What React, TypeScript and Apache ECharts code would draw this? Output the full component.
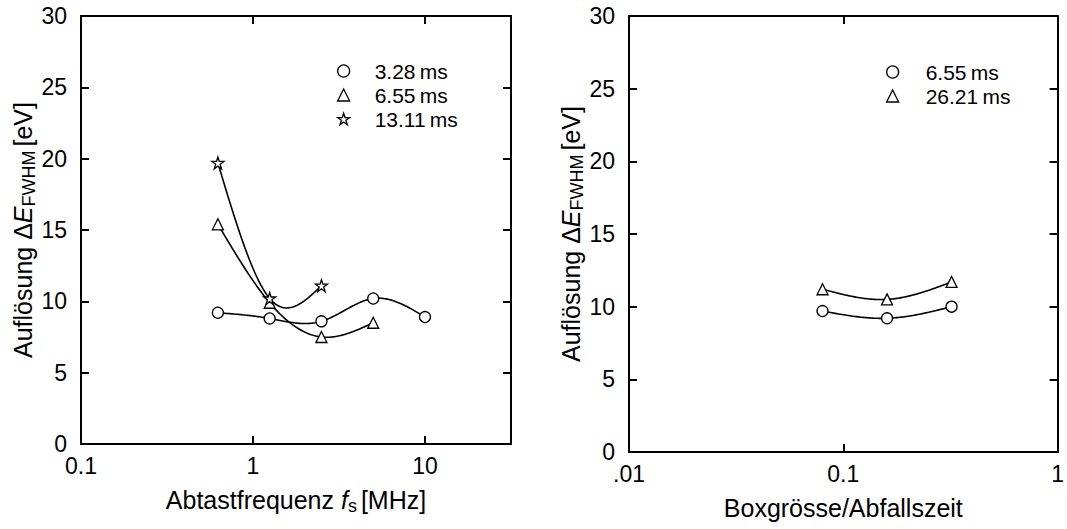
import React, { useEffect, useRef } from "react";
import * as echarts from "echarts";

// Left panel: resolution vs. sampling frequency
const fsMHz_328 = [0.625, 1.25, 2.5, 5, 10];
const res_328 = [9.2, 8.8, 8.6, 10.2, 8.9];
const fsMHz_655 = [0.625, 1.25, 2.5, 5];
const res_655 = [15.4, 9.9, 7.5, 8.5];
const fsMHz_1311 = [0.625, 1.25, 2.5];
const res_1311 = [19.7, 10.2, 11.1];
const leftNames = ["3.28\u2009ms", "6.55\u2009ms", "13.11\u2009ms"];

// Right panel: resolution vs. box size / decay time
const box_655 = [0.08, 0.16, 0.32];
const resBox_655 = [9.7, 9.2, 10.0];
const box_2621 = [0.08, 0.16, 0.32];
const resBox_2621 = [11.2, 10.5, 11.7];
const rightNames = ["6.55\u2009ms\u200a", "26.21\u2009ms"];

const leftXTicks: Record<string, string> = { "0.1": "0.1", "1": "1", "10": "10" };
const rightXTicks: Record<string, string> = { "0.01": ".01", "0.1": "0.1", "1": "1" };

const STAR = "path://M50,2 L61,37 L98,37 L68,59 L79,95 L50,73 L21,95 L32,59 L2,37 L39,37 Z";
const FONT = "'Liberation Sans', Arial, Helvetica, sans-serif";
const FS = 23;
const LFS = 21;
const NFS = 25;

function zip(xs: number[], ys: number[]) {
  return xs.map((x, i) => [x, ys[i]]);
}

function fmtTick(map: Record<string, string>) {
  return (v: number) => {
    const k = String(parseFloat(v.toPrecision(6)));
    return map[k] ?? "";
  };
}

// natural cubic spline through pixel points (x increasing), sampled densely for drawing
function splinePoints(p: number[][]): number[][] {
  const n = p.length;
  if (n < 3) return p;
  const h: number[] = [];
  for (let i = 0; i < n - 1; i++) h.push(p[i + 1][0] - p[i][0]);
  const a: number[] = new Array(n).fill(0);
  const b: number[] = new Array(n).fill(1);
  const c: number[] = new Array(n).fill(0);
  const d: number[] = new Array(n).fill(0);
  for (let i = 1; i < n - 1; i++) {
    a[i] = h[i - 1] / 6;
    b[i] = (h[i - 1] + h[i]) / 3;
    c[i] = h[i] / 6;
    d[i] = (p[i + 1][1] - p[i][1]) / h[i] - (p[i][1] - p[i - 1][1]) / h[i - 1];
  }
  const cp = c.slice();
  const dp = d.slice();
  for (let i = 1; i < n; i++) {
    const m = a[i] / b[i - 1];
    b[i] = b[i] - m * cp[i - 1];
    dp[i] = dp[i] - m * dp[i - 1];
  }
  const M: number[] = new Array(n).fill(0);
  M[n - 1] = dp[n - 1] / b[n - 1];
  for (let i = n - 2; i >= 0; i--) M[i] = (dp[i] - cp[i] * M[i + 1]) / b[i];
  M[0] = 0;
  M[n - 1] = 0;
  const out: number[][] = [];
  const steps = 40;
  for (let i = 0; i < n - 1; i++) {
    const hi = h[i];
    for (let s = 0; s <= steps; s++) {
      if (i > 0 && s === 0) continue;
      const t = s / steps;
      const x = p[i][0] + t * hi;
      const A = 1 - t;
      const B = t;
      const y =
        A * p[i][1] +
        B * p[i + 1][1] +
        ((A * A * A - A) * M[i] + (B * B * B - B) * M[i + 1]) * (hi * hi) / 6;
      out.push([x, y]);
    }
  }
  return out;
}

const richName = {
  a: { fontFamily: FONT, fontSize: NFS, color: "#000", lineHeight: 30, verticalAlign: "middle" },
  i: { fontFamily: FONT, fontSize: NFS, color: "#000", fontStyle: "italic", lineHeight: 30, verticalAlign: "middle" },
  sub: { fontFamily: FONT, fontSize: 18, color: "#000", lineHeight: 30, verticalAlign: "bottom", padding: [0, 4, 0, 0] },
};

export default function App() {
  const ref = useRef<HTMLDivElement>(null);
  useEffect(() => {
    if (!ref.current) return;
    const chart = echarts.init(ref.current, null, { renderer: "svg" });
    const axisLine = { show: true, onZero: false, lineStyle: { color: "#000", width: 2 } };
    const tick = { show: true, inside: true, length: 8, lineStyle: { color: "#000", width: 2 } };
    const label = { color: "#000", fontFamily: FONT, fontSize: FS };
    const sym = { color: "#fff", borderColor: "#000", borderWidth: 1.3 };

    const mkX = (grid: number, pos: "bottom" | "top", min: number, max: number, map: Record<string, string>, name?: string) => ({
      type: "log",
      logBase: 10,
      gridIndex: grid,
      position: pos,
      min,
      max,
      axisLine,
      axisTick: tick,
      splitLine: { show: false },
      minorTick: { show: false },
      axisLabel: pos === "bottom" ? { ...label, margin: 10, formatter: fmtTick(map), showMaxLabel: true } : { show: false },
      name: name ?? "",
      nameLocation: "middle",
      nameGap: 41,
      nameTextStyle: { rich: richName },
    });
    const mkY = (grid: number, pos: "left" | "right", name?: string) => ({
      type: "value",
      gridIndex: grid,
      position: pos,
      min: 0,
      max: 30,
      interval: 5,
      axisLine,
      axisTick: tick,
      splitLine: { show: false },
      axisLabel: pos === "left" ? { ...label, margin: 14 } : { show: false },
      name: name ?? "",
      nameLocation: "middle",
      nameRotate: 90,
      nameGap: 40,
      nameTextStyle: { rich: richName },
    });

    const yName = "{a|Auflösung Δ}{i|E}{sub|FWHM}{a|[eV]}";

    const curve = (xIdx: number, yIdx: number, xs: number[], ys: number[]) => ({
      type: "custom",
      name: "curve",
      coordinateSystem: "cartesian2d",
      xAxisIndex: xIdx,
      yAxisIndex: yIdx,
      data: zip(xs, ys),
      z: 1,
      silent: true,
      renderItem: (params: any, api: any) => {
        if (params.dataIndex !== 0) return null;
        const pts = xs.map((x, i) => api.coord([x, ys[i]]));
        return {
          type: "polyline",
          shape: { points: splinePoints(pts) },
          style: { stroke: "#000", lineWidth: 1.6, fill: null },
        };
      },
    });

    const marks = (name: string, xIdx: number, yIdx: number, xs: number[], ys: number[], symbol: string, size: number) => ({
      name,
      type: "line",
      xAxisIndex: xIdx,
      yAxisIndex: yIdx,
      data: zip(xs, ys),
      symbol,
      symbolSize: size,
      showAllSymbol: true,
      itemStyle: sym,
      lineStyle: { width: 0, opacity: 0 },
      z: 3,
    });

    const legendText = { color: "#000", fontFamily: FONT, fontSize: LFS, lineHeight: 24 };

    chart.setOption({
      animation: false,
      backgroundColor: "#fff",
      textStyle: { fontFamily: FONT },
      grid: [
        { left: 81, top: 16, width: 430, height: 428 },
        { left: 629, top: 16, width: 434, height: 436 },
      ],
      xAxis: [
        mkX(0, "bottom", 0.1, Math.pow(10, 1.5), leftXTicks, "{a|Abtastfrequenz }{i|f}{sub|s}{a|[MHz]}"),
        mkX(0, "top", 0.1, Math.pow(10, 1.5), leftXTicks),
        mkX(1, "bottom", 0.01, 1, rightXTicks, "{a|Boxgrösse/Abfallszeit}"),
        mkX(1, "top", 0.01, 1, rightXTicks),
      ],
      yAxis: [mkY(0, "left", yName), mkY(0, "right"), mkY(1, "left", yName), mkY(1, "right")],
      legend: [
        {
          orient: "vertical",
          left: 332,
          top: 54,
          itemWidth: 12,
          itemHeight: 12,
          itemGap: 0,
          textStyle: { ...legendText, padding: [0, 0, 0, 20] },
          itemStyle: sym,
          data: [
            { name: leftNames[0], icon: "circle" },
            { name: leftNames[1], icon: "triangle" },
            { name: leftNames[2], icon: STAR },
          ],
        },
        {
          orient: "vertical",
          left: 881,
          top: 55,
          itemWidth: 12,
          itemHeight: 12,
          itemGap: 0,
          textStyle: { ...legendText, padding: [0, 0, 0, 22] },
          itemStyle: sym,
          data: [
            { name: rightNames[0], icon: "circle" },
            { name: rightNames[1], icon: "triangle" },
          ],
        },
      ],
      series: [
        curve(0, 0, fsMHz_328, res_328),
        curve(0, 0, fsMHz_655, res_655),
        curve(0, 0, fsMHz_1311, res_1311),
        curve(2, 2, box_655, resBox_655),
        curve(2, 2, box_2621, resBox_2621),
        marks(leftNames[0], 0, 0, fsMHz_328, res_328, "circle", 11),
        marks(leftNames[1], 0, 0, fsMHz_655, res_655, "triangle", 11),
        marks(leftNames[2], 0, 0, fsMHz_1311, res_1311, STAR, 12),
        marks(rightNames[0], 2, 2, box_655, resBox_655, "circle", 11),
        marks(rightNames[1], 2, 2, box_2621, resBox_2621, "triangle", 11),
      ],
    });
    return () => chart.dispose();
  }, []);
  return <div ref={ref} style={{ position: "fixed", left: 0, top: 0, width: 1067, height: 529 }} />;
}
